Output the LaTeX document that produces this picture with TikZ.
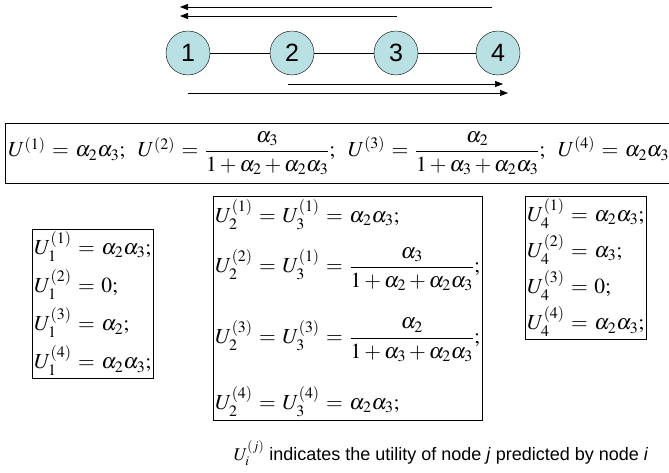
\documentclass[tikz,border=0pt]{standalone}
\usepackage{amsmath}
\usepackage{mathptmx}
\usepackage[no-math]{fontspec}
\setmainfont{Liberation Serif}
\newfontfamily\arialfont{Liberation Sans}
\usetikzlibrary{arrows.meta}
\definecolor{peerfill}{RGB}{185,224,226}
\newcommand{\ds}{\displaystyle}
\newcommand{\sep}{;\hspace{10pt}}
\thickmuskip=5.5mu

\begin{document}
\begin{tikzpicture}[x=1pt,y=-1pt,
  peer/.style={circle,draw,fill=peerfill,minimum size=44pt,inner sep=0pt,
    font=\arialfont\fontsize{25}{25}\selectfont},
  route/.style={-{Triangle[length=8pt,width=6pt]},line width=0.7pt},
  ubox/.style={draw,line width=0.6pt,inner sep=2pt,font=\fontsize{21.5}{26}\selectfont}]
\useasboundingbox (0,0) rectangle (669,473);
% chain of nodes
\node[peer] (n1) at (188,53) {1};
\node[peer] (n2) at (292,53) {2};
\node[peer] (n3) at (396,53) {3};
\node[peer] (n4) at (498,53) {4};
\draw (n1) -- (n2) (n2) -- (n3) (n3) -- (n4);
% message paths
\coordinate (l1s) at (492,7);  \coordinate (l1e) at (180,7);
\coordinate (l2s) at (397,16); \coordinate (l2e) at (180,16);
\coordinate (r1s) at (288,84); \coordinate (r1e) at (503,84);
\coordinate (r2s) at (188,93); \coordinate (r2e) at (508,93);
\draw[route] (l1s) -- (l1e);
\draw[route] (l2s) -- (l2e);
\draw[route] (r1s) -- (r1e);
\draw[route] (r2s) -- (r2e);
% true utilities
\node[ubox,anchor=west,minimum height=60pt,inner xsep=3pt] (truth) at (5,153.5)
  {$U^{(1)}=\alpha_2\alpha_3\sep U^{(2)}=\ds\frac{\alpha_3}{1+\alpha_2+\alpha_2\alpha_3}\sep
    U^{(3)}=\ds\frac{\alpha_2}{1+\alpha_3+\alpha_2\alpha_3}\sep U^{(4)}=\alpha_2\alpha_3\hspace{8pt}$};
% predictions of node 1
\node[ubox,anchor=north west] (pred1) at (32,229)
  {$\begin{array}{@{}l@{}}
    U_1^{(1)}=\alpha_2\alpha_3;\\[7pt]
    U_1^{(2)}=0;\\[7pt]
    U_1^{(3)}=\alpha_2;\\[7pt]
    U_1^{(4)}=\alpha_2\alpha_3;
   \end{array}$};
% predictions of nodes 2 and 3
\node[ubox,anchor=north west,inner ysep=3pt] (pred23) at (213,196)
  {$\begin{array}{@{}l@{}}
    U_2^{(1)}=U_3^{(1)}=\alpha_2\alpha_3;\\[17pt]
    \ds U_2^{(2)}=U_3^{(1)}=\frac{\alpha_3}{1+\alpha_2+\alpha_2\alpha_3};\\[38pt]
    \ds U_2^{(3)}=U_3^{(3)}=\frac{\alpha_2}{1+\alpha_3+\alpha_2\alpha_3};\\[35pt]
    U_2^{(4)}=U_3^{(4)}=\alpha_2\alpha_3;
   \end{array}$};
% predictions of node 4
\node[ubox,anchor=north west] (pred4) at (525,196)
  {$\begin{array}{@{}l@{}}
    U_4^{(1)}=\alpha_2\alpha_3;\\[5pt]
    U_4^{(2)}=\alpha_3;\\[5pt]
    U_4^{(3)}=0;\\[5pt]
    U_4^{(4)}=\alpha_2\alpha_3;
   \end{array}$};
% legend
\node[font=\arialfont\fontsize{18}{22}\selectfont] (legend) at (441,453)
  {$U_i^{(j)}$ indicates the utility of node \textit{j} predicted by node \textit{i}};
\end{tikzpicture}
\end{document}
